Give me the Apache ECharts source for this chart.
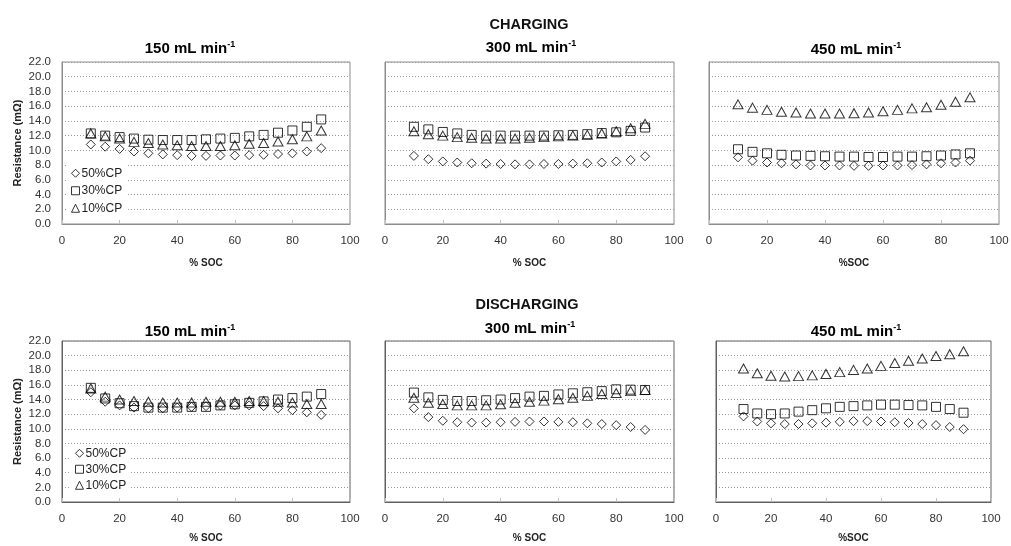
<!DOCTYPE html>
<html>
<head>
<meta charset="utf-8">
<script src="https://cdn.jsdelivr.net/npm/echarts@6/dist/echarts.min.js"></script>
<style>
html,body{margin:0;padding:0;background:#fff;}
#chart{width:1011px;height:546px;}
</style>
</head>
<body>
<div id="chart"></div>
<script>
// % SOC positions
const socX = [10,15,20,25,30,35,40,45,50,55,60,65,70,75,80,85,90];
const seriesNames = ['50%CP','30%CP','10%CP'];
const yTicks = [0,2,4,6,8,10,12,14,16,18,20,22];
const xTicks = [0,20,40,60,80,100];

// CHARGING
const chg150_50 = [10.8,10.5,10.2,9.85,9.6,9.45,9.35,9.25,9.25,9.3,9.3,9.35,9.4,9.5,9.6,9.85,10.3];
const chg150_30 = [12.3,12.0,11.8,11.6,11.45,11.4,11.4,11.4,11.5,11.6,11.7,11.9,12.1,12.4,12.7,13.2,14.2];
const chg150_10 = [12.3,11.9,11.6,11.15,11.0,10.8,10.7,10.6,10.6,10.6,10.7,10.9,11.0,11.2,11.5,11.9,12.7];

const chg300_50 = [9.25,8.8,8.5,8.35,8.25,8.2,8.15,8.1,8.1,8.15,8.15,8.2,8.25,8.35,8.5,8.7,9.2];
const chg300_30 = [13.2,12.85,12.5,12.3,12.1,12.0,12.0,12.0,12.0,12.0,12.05,12.1,12.2,12.35,12.45,12.65,13.1];
const chg300_10 = [12.6,12.2,12.0,11.8,11.7,11.6,11.6,11.6,11.7,11.8,11.9,12.0,12.1,12.3,12.6,13.0,13.6];

const chg450_50 = [9.05,8.6,8.35,8.25,8.1,7.95,7.95,7.95,7.9,7.9,7.95,7.95,8.0,8.1,8.25,8.35,8.6];
const chg450_30 = [10.15,9.8,9.6,9.4,9.3,9.25,9.2,9.15,9.15,9.1,9.1,9.15,9.15,9.2,9.3,9.45,9.6];
const chg450_10 = [16.25,15.8,15.5,15.25,15.15,15.0,15.0,15.0,15.05,15.15,15.3,15.5,15.7,15.85,16.2,16.6,17.2];

// DISCHARGING
const dis150_50 = [15.0,13.7,13.2,12.9,12.8,12.8,12.9,13.0,13.1,13.2,13.2,13.2,13.1,12.8,12.55,12.25,11.9];
const dis150_30 = [15.6,14.15,13.5,13.1,12.9,12.9,12.9,13.0,13.0,13.2,13.35,13.55,13.75,14.0,14.2,14.4,14.75];
const dis150_10 = [15.5,14.4,14.0,13.8,13.7,13.6,13.6,13.6,13.7,13.7,13.7,13.8,13.8,13.7,13.6,13.4,13.4];

const dis300_50 = [12.8,11.6,11.1,10.9,10.85,10.85,10.9,10.95,11.0,11.0,10.95,10.9,10.75,10.65,10.5,10.25,9.85];
const dis300_30 = [14.95,14.3,13.95,13.8,13.8,13.9,14.0,14.2,14.4,14.5,14.7,14.85,15.0,15.15,15.4,15.35,15.3];
const dis300_10 = [14.25,13.55,13.4,13.2,13.2,13.2,13.35,13.55,13.7,13.85,14.05,14.25,14.5,14.75,14.9,15.15,15.3];

const dis450_50 = [11.7,11.0,10.75,10.65,10.65,10.75,10.85,10.95,11.05,11.05,11.0,10.9,10.8,10.65,10.5,10.25,9.95];
const dis450_30 = [12.7,12.1,12.0,12.1,12.35,12.55,12.8,13.0,13.1,13.2,13.3,13.3,13.25,13.2,13.0,12.7,12.2];
const dis450_10 = [18.25,17.6,17.25,17.15,17.2,17.3,17.5,17.75,18.05,18.25,18.6,19.0,19.3,19.6,19.95,20.2,20.6];

const panels = [
  {data:[chg150_50,chg150_30,chg150_10], left:62, top:62, width:288, height:162, xname:'% SOC', gap:34, first:true, frame:'#8c8c8c'},
  {data:[chg300_50,chg300_30,chg300_10], left:385, top:62, width:289, height:162, xname:'% SOC', gap:34, first:false, frame:'#8c8c8c'},
  {data:[chg450_50,chg450_30,chg450_10], left:709, top:62, width:290, height:162, xname:'%SOC', gap:34, first:false, frame:'#8c8c8c'},
  {data:[dis150_50,dis150_30,dis150_10], left:62, top:341, width:288, height:161, xname:'% SOC', gap:31, first:true, frame:'#606060'},
  {data:[dis300_50,dis300_30,dis300_10], left:385, top:341, width:289, height:161, xname:'% SOC', gap:31, first:false, frame:'#606060'},
  {data:[dis450_50,dis450_30,dis450_10], left:716, top:341, width:275, height:161, xname:'%SOC', gap:31, first:false, frame:'#606060'}
];

const FONT = "'Liberation Sans', Arial, sans-serif";
const symbols = ['diamond','rect','triangle'];
const symSizes = [9, 9, [10,9]];

const grid = [], xAxis = [], yAxis = [], series = [];
panels.forEach((p, gi) => {
  grid.push({left:p.left, top:p.top, width:p.width, height:p.height, show:true,
    borderColor:p.frame, borderWidth:1, backgroundColor:'#fff', containLabel:false,
    outerBoundsMode:'none'});
  xAxis.push({type:'value', gridIndex:gi, min:xTicks[0], max:xTicks[xTicks.length-1], interval:20,
    name:p.xname, nameLocation:'middle', nameGap:p.gap,
    nameTextStyle:{fontFamily:FONT, fontSize:10, fontWeight:'bold', color:'#222'},
    axisLine:{show:true, lineStyle:{color:p.frame}},
    axisTick:{show:true, inside:true, length:4, lineStyle:{color:'#c0c0c0'}},
    axisLabel:{fontFamily:FONT, fontSize:11.5, color:'#333', margin:11},
    splitLine:{show:false}});
  yAxis.push({type:'value', gridIndex:gi, min:yTicks[0], max:yTicks[yTicks.length-1], interval:2,
    name:p.first ? 'Resistance (m\u03A9)' : '', nameLocation:'middle', nameGap:39,
    nameTextStyle:{fontFamily:FONT, fontSize:11, fontWeight:'bold', color:'#222'},
    axisLine:{show:true, lineStyle:{color:p.frame}},
    axisTick:{show:false},
    axisLabel:{show:p.first, fontFamily:FONT, fontSize:11.5, color:'#333', margin:11,
      formatter:v => v.toFixed(1)},
    splitLine:{show:true, lineStyle:{color:'#9a9a9a', type:[1,2], width:1}}});
  p.data.forEach((arr, si) => {
    series.push({type:'scatter', name:seriesNames[si], xAxisIndex:gi, yAxisIndex:gi,
      symbol:symbols[si], symbolSize:symSizes[si],
      itemStyle:{color:'rgba(255,255,255,0)', borderColor:'#000', borderWidth:1},
      emphasis:{disabled:true},
      data: socX.map((x,i) => [x, arr[i]])});
  });
});

function legendAt(left, top, gap){
  return {orient:'vertical', left:left, top:top, itemWidth:8, itemHeight:8, itemGap:gap,
    backgroundColor:'#fff', padding:[3,4,3,4],
    textStyle:{fontFamily:FONT, fontSize:12, color:'#222', lineHeight:12.5, padding:[0,0,0,-3]},
    itemStyle:{color:'rgba(255,255,255,0)', borderColor:'#000', borderWidth:1},
    data:seriesNames.map((n,i)=>({name:n, icon:symbols[i]})), selectedMode:false};
}

function titleText(x, y, main, sup){
  return {type:'text', x:x, y:y, z:100,
    style:{text:'{a|'+main+'}{s|'+sup+'}', align:'center', verticalAlign:'middle',
      rich:{a:{fontFamily:FONT, fontSize:15, fontWeight:'bold', fill:'#000', lineHeight:17},
            s:{fontFamily:FONT, fontSize:9, fontWeight:'bold', fill:'#000', lineHeight:17, padding:[0,0,9,0]}}}};
}
function headText(x, y, t){
  return {type:'text', x:x, y:y, z:100,
    style:{text:t, align:'center', verticalAlign:'middle', fontFamily:FONT, fontSize:14.5, fontWeight:'bold', fill:'#111'}};
}

const chart = echarts.init(document.getElementById('chart'), null, {renderer:'canvas'});
chart.setOption({
  animation:false,
  backgroundColor:'#fff',
  grid:grid, xAxis:xAxis, yAxis:yAxis, series:series,
  legend:[legendAt(67, 164, 5), legendAt(71, 444, 3.5)],
  graphic:[
    headText(529, 25, 'CHARGING'),
    titleText(190, 49, '150 mL min', '-1'),
    titleText(531, 48, '300 mL min', '-1'),
    titleText(856, 50, '450 mL min', '-1'),
    headText(527, 305, 'DISCHARGING'),
    titleText(190, 332, '150 mL min', '-1'),
    titleText(530, 329, '300 mL min', '-1'),
    titleText(856, 332, '450 mL min', '-1')
  ]
});
</script>
</body>
</html>
